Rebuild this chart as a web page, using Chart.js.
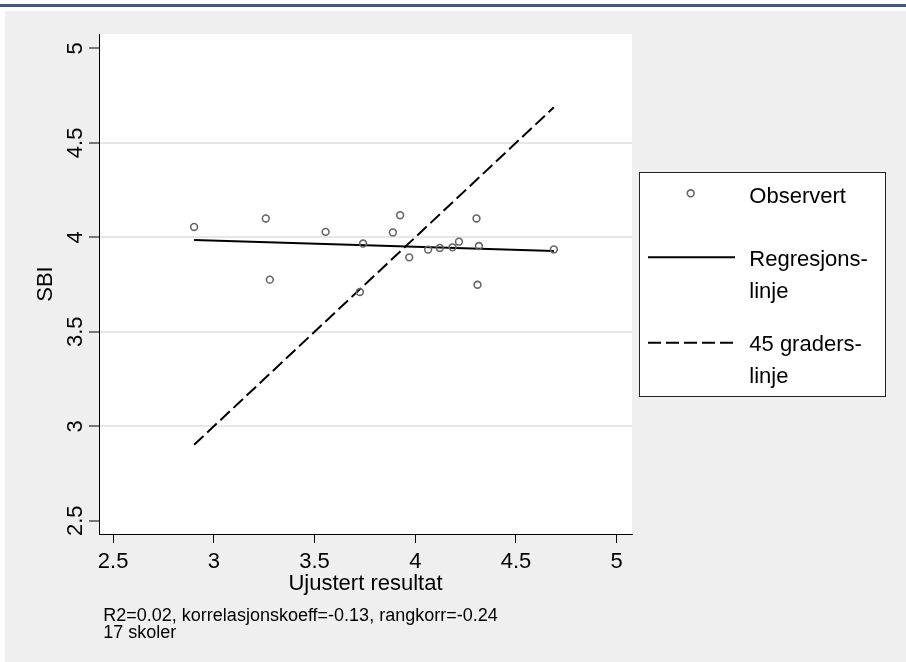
<!DOCTYPE html>
<html>
<head>
<meta charset="utf-8">
<script src="https://cdn.jsdelivr.net/npm/chart.js@4.4.1/dist/chart.umd.min.js"></script>
<style>
    html, body { margin: 0; padding: 0; background: #fff; }
    #wrap { position: relative; width: 906px; height: 662px; }
</style>
</head>
<body>
<div id="wrap"><canvas id="chart" width="906" height="662"></canvas></div>
<script>
// Data
const obsX = [2.902, 3.258, 3.278, 3.555, 3.725, 3.741, 3.889, 3.925, 3.970, 4.064, 4.122, 4.185, 4.217, 4.304, 4.309, 4.316, 4.688];
const obsY = [4.055, 4.100, 3.776, 4.029, 3.711, 3.967, 4.026, 4.117, 3.894, 3.935, 3.944, 3.947, 3.977, 4.100, 3.749, 3.954, 3.936];
const regX = [2.902, 4.688];
const regY = [3.986, 3.928];
const diagX = [2.902, 4.688];
const diagY = [2.902, 4.688];
const xTicks = [2.5, 3, 3.5, 4, 4.5, 5];
const yTicks = [2.5, 3, 3.5, 4, 4.5, 5];
const legendLabels = [['Observert'], ['Regresjons-', 'linje'], ['45 graders-', 'linje']];
const noteLines = ['R2=0.02, korrelasjonskoeff=-0.13, rangkorr=-0.24', '17 skoler'];

const FONT = '"Liberation Sans", Arial, sans-serif';
const colors = {
    band: '#405a85',
    page: '#efefef',
    grid: '#e6e6e6',
    marker: '#666666',
    ink: '#000000'
};

function toPoints(xs, ys) {
    return xs.map((x, i) => ({ x: x, y: ys[i] }));
}

// page background, blue band and white plot region
const backdrop = {
    id: 'backdrop',
    beforeDraw(chart) {
        const { ctx, chartArea: a } = chart;
        ctx.save();
        ctx.fillStyle = '#fff';
        ctx.fillRect(0, 0, chart.width, chart.height);
        ctx.fillStyle = colors.band;
        ctx.fillRect(0, 4, chart.width, 3);
        ctx.fillStyle = colors.page;
        ctx.fillRect(5, 11, chart.width - 5, chart.height - 11);
        ctx.fillStyle = '#fff';
        ctx.fillRect(a.left, a.top, a.right - a.left, a.bottom - a.top);
        ctx.restore();
    }
};

// rotated y tick labels, legend box and note
const overlay = {
    id: 'overlay',
    afterDraw(chart) {
        const ctx = chart.ctx;
        const yScale = chart.scales.y;
        ctx.save();
        ctx.fillStyle = colors.ink;
        ctx.font = '22px ' + FONT;
        ctx.textAlign = 'center';
        ctx.textBaseline = 'alphabetic';
        yScale.ticks.forEach(t => {
            const py = yScale.getPixelForValue(t.value);
            ctx.save();
            ctx.translate(yScale.right - 17.5, py);
            ctx.rotate(-Math.PI / 2);
            ctx.fillText(String(t.value), 0, 0);
            ctx.restore();
        });

        // legend
        const box = { x: 639.5, y: 172.5, w: 246, h: 224 };
        ctx.fillStyle = '#fff';
        ctx.fillRect(box.x, box.y, box.w, box.h);
        ctx.strokeStyle = '#222';
        ctx.lineWidth = 1;
        ctx.strokeRect(box.x, box.y, box.w, box.h);

        const ds = chart.data.datasets;
        const symY = [193.3, 257.3, 342.7];
        const textBase = [[203.3], [265.5, 298.3], [350.5, 383.3]];

        ctx.beginPath();
        ctx.arc(690.7, symY[0], ds[0].pointRadius, 0, Math.PI * 2);
        ctx.strokeStyle = ds[0].borderColor;
        ctx.lineWidth = ds[0].pointBorderWidth;
        ctx.stroke();

        [1, 2].forEach(i => {
            ctx.beginPath();
            ctx.setLineDash(ds[i].borderDash || []);
            ctx.strokeStyle = ds[i].borderColor;
            ctx.lineWidth = ds[i].borderWidth;
            ctx.moveTo(648, symY[i]);
            ctx.lineTo(735, symY[i]);
            ctx.stroke();
        });
        ctx.setLineDash([]);

        ctx.fillStyle = colors.ink;
        ctx.textAlign = 'left';
        legendLabels.forEach((lines, i) => {
            lines.forEach((txt, j) => ctx.fillText(txt, 749.3, textBase[i][j]));
        });

        // note under the plot
        ctx.font = '18px ' + FONT;
        ctx.fillText(noteLines[0], 103.3, 620.7);
        ctx.fillText(noteLines[1], 103.3, 637.5);
        ctx.restore();
    }
};

const ctx = document.getElementById('chart').getContext('2d');
const chart = new Chart(ctx, {
    type: 'scatter',
    data: {
        datasets: [
            {
                label: 'Observert',
                data: toPoints(obsX, obsY),
                showLine: false,
                pointRadius: 3.4,
                pointBorderWidth: 1.6,
                borderColor: colors.marker,
                backgroundColor: 'rgba(255,255,255,0)'
            },
            {
                label: 'Regresjonslinje',
                data: toPoints(regX, regY),
                showLine: true,
                pointRadius: 0,
                borderColor: colors.ink,
                borderWidth: 2
            },
            {
                label: '45 graderslinje',
                data: toPoints(diagX, diagY),
                showLine: true,
                pointRadius: 0,
                borderColor: colors.ink,
                borderWidth: 2,
                borderDash: [13, 5]
            }
        ]
    },
    options: {
        responsive: false,
        animation: false,
        layout: {
            padding: { left: 20, top: 34, right: 274, bottom: 64.7 }
        },
        plugins: {
            legend: { display: false },
            tooltip: { enabled: false }
        },
        scales: {
            x: {
                type: 'linear',
                min: 2.43,
                max: 5.076,
                bounds: 'data',
                afterBuildTicks: s => { s.ticks = xTicks.map(v => ({ value: v })); },
                afterFit: s => { s.height = 63.3; },
                grid: {
                    drawOnChartArea: false,
                    tickLength: 9,
                    tickColor: colors.ink,
                    tickWidth: 1
                },
                border: { color: colors.ink, width: 1 },
                ticks: {
                    font: { size: 22, family: FONT },
                    color: colors.ink,
                    padding: 5.5,
                    maxRotation: 0,
                    autoSkip: false,
                    callback: v => String(v)
                },
                title: {
                    display: true,
                    text: 'Ujustert resultat',
                    font: { size: 22, family: FONT },
                    color: colors.ink,
                    padding: { top: 0, bottom: 0 }
                }
            },
            y: {
                type: 'linear',
                min: 2.43,
                max: 5.076,
                bounds: 'data',
                afterBuildTicks: s => { s.ticks = yTicks.map(v => ({ value: v })); },
                afterFit: s => { s.width = 79; },
                grid: {
                    color: c => (c.tick && (c.tick.value === 2.5 || c.tick.value === 5)) ? 'rgba(0,0,0,0)' : colors.grid,
                    lineWidth: 2,
                    tickLength: 10,
                    tickColor: colors.ink,
                    tickWidth: 1
                },
                border: { color: colors.ink, width: 1 },
                ticks: { display: false },
                title: {
                    display: true,
                    text: 'SBI',
                    font: { size: 22, family: FONT },
                    color: colors.ink,
                    padding: { top: 12.3, bottom: 0 }
                }
            }
        }
    },
    plugins: [backdrop, overlay]
});
</script>
</body>
</html>
